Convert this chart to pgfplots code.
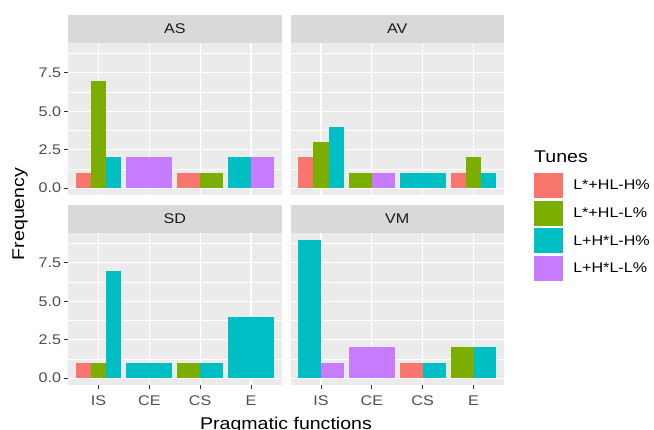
\documentclass[border=0pt]{standalone}
\usepackage{fontspec}
\setmainfont{Liberation Sans}[FakeStretch=1.15]
\usepackage{pgfplots}
\pgfplotsset{compat=1.18}
\definecolor{cR}{HTML}{F8766D}
\definecolor{cG}{HTML}{7CAE00}
\definecolor{cC}{HTML}{00BFC4}
\definecolor{cP}{HTML}{C77CFF}
\definecolor{bg}{HTML}{EBEBEB}
\definecolor{stripc}{HTML}{D9D9D9}
\definecolor{ticklab}{HTML}{4D4D4D}
\definecolor{tickc}{HTML}{333333}
\definecolor{striptext}{HTML}{1A1A1A}
\newcommand\ticksize{\fontsize{14bp}{16bp}\selectfont}
\newcommand\titlesize{\fontsize{17bp}{19bp}\selectfont}
\pgfplotsset{
 panel/.style={width=213.5bp,height=152bp,scale only axis,
   xmin=0.4,xmax=4.6,ymin=-0.45,ymax=9.45,
   axis background/.style={fill=bg},
   axis line style={draw=none},
   xtick={1,2,3,4}, ytick={0,2.5,5,7.5},
   minor ytick={1.25,3.75,6.25,8.75},
   grid=both,
   major grid style={white,line width=1.1bp},
   minor grid style={white,line width=0.55bp},
   tick align=outside, tick pos=left,
   major tick length=4.5bp, minor tick length=0pt,
   tick style={tickc,line width=0.9bp},
   minor tick style={draw=none},
   xticklabels={IS,CE,CS,E},
   yticklabels={0.0,2.5,5.0,7.5},
   ticklabel style={font=\ticksize,text=ticklab},
   yticklabel style={xshift=1bp},
   xticklabel style={yshift=-3bp},
   clip=false},
 notx/.style={xticklabels={}, xtick style={draw=none}},
 noty/.style={yticklabels={}, ytick style={draw=none}},
 b3/.style={ybar,bar width=0.3,bar shift=0pt,draw=none,fill=#1},
 b2/.style={ybar,bar width=0.45,bar shift=0pt,draw=none,fill=#1},
 b1/.style={ybar,bar width=0.9,bar shift=0pt,draw=none,fill=#1},
}
\newcommand\strip[1]{%
 \fill[stripc] (rel axis cs:0,1) rectangle ([yshift=28bp]rel axis cs:1,1);
 \node[font=\ticksize,text=striptext] at ([yshift=14bp]rel axis cs:0.5,1) {#1};}
\begin{document}
\begin{tikzpicture}
\useasboundingbox (0bp,0bp) rectangle (654bp,430bp);
% AS
\begin{axis}[panel,notx,at={(68bp,235bp)},anchor=south west]
\addplot[b3=cR] coordinates {(0.7,1)};
\addplot[b3=cG] coordinates {(1,7)};
\addplot[b3=cC] coordinates {(1.3,2)};
\addplot[b1=cP] coordinates {(2,2)};
\addplot[b2=cR] coordinates {(2.775,1)};
\addplot[b2=cG] coordinates {(3.225,1)};
\addplot[b2=cC] coordinates {(3.775,2)};
\addplot[b2=cP] coordinates {(4.225,2)};
\strip{AS}
\end{axis}
% AV
\begin{axis}[panel,notx,noty,at={(290.5bp,235bp)},anchor=south west,
  legend image code/.code={\fill[#1,draw=none] (0bp,-12.5bp) rectangle (29bp,12.5bp); \path (39bp,0bp);},
  legend style={at={(rel axis cs:1.1408,0.1447)},anchor=north west,draw=none,fill=none,
    inner sep=0pt,outer sep=0pt,row sep=2.7bp,font=\ticksize,
    nodes={inner sep=0pt,text=black}},
  legend cell align=left]
\addlegendimage{fill=cR}
\addlegendimage{fill=cG}
\addlegendimage{fill=cC}
\addlegendimage{fill=cP}
\addplot[b3=cR] coordinates {(0.7,2)};
\addplot[b3=cG] coordinates {(1,3)};
\addplot[b3=cC] coordinates {(1.3,4)};
\addplot[b2=cG] coordinates {(1.775,1)};
\addplot[b2=cP] coordinates {(2.225,1)};
\addplot[b1=cC] coordinates {(3,1)};
\addplot[b3=cR] coordinates {(3.7,1)};
\addplot[b3=cG] coordinates {(4,2)};
\addplot[b3=cC] coordinates {(4.3,1)};
\legend{L*+HL-H\%,L*+HL-L\%,L+H*L-H\%,L+H*L-L\%}
\strip{AV}
\end{axis}
% SD
\begin{axis}[panel,at={(68bp,45bp)},anchor=south west]
\addplot[b3=cR] coordinates {(0.7,1)};
\addplot[b3=cG] coordinates {(1,1)};
\addplot[b3=cC] coordinates {(1.3,7)};
\addplot[b1=cC] coordinates {(2,1)};
\addplot[b2=cG] coordinates {(2.775,1)};
\addplot[b2=cC] coordinates {(3.225,1)};
\addplot[b1=cC] coordinates {(4,4)};
\strip{SD}
\end{axis}
% VM
\begin{axis}[panel,noty,at={(290.5bp,45bp)},anchor=south west]
\addplot[b2=cC] coordinates {(0.775,9)};
\addplot[b2=cP] coordinates {(1.225,1)};
\addplot[b1=cP] coordinates {(2,2)};
\addplot[b2=cR] coordinates {(2.775,1)};
\addplot[b2=cC] coordinates {(3.225,1)};
\addplot[b2=cG] coordinates {(3.775,2)};
\addplot[b2=cC] coordinates {(4.225,2)};
\strip{VM}
\end{axis}
\node[rotate=90,font=\titlesize] at (20bp,216bp) {Frequency};
\node[anchor=base,font=\titlesize] at (286bp,1bp) {Pragmatic functions};
\node[anchor=base west,font=\titlesize,inner sep=0pt] at (534bp,267bp) {Tunes};
\end{tikzpicture}
\end{document}
